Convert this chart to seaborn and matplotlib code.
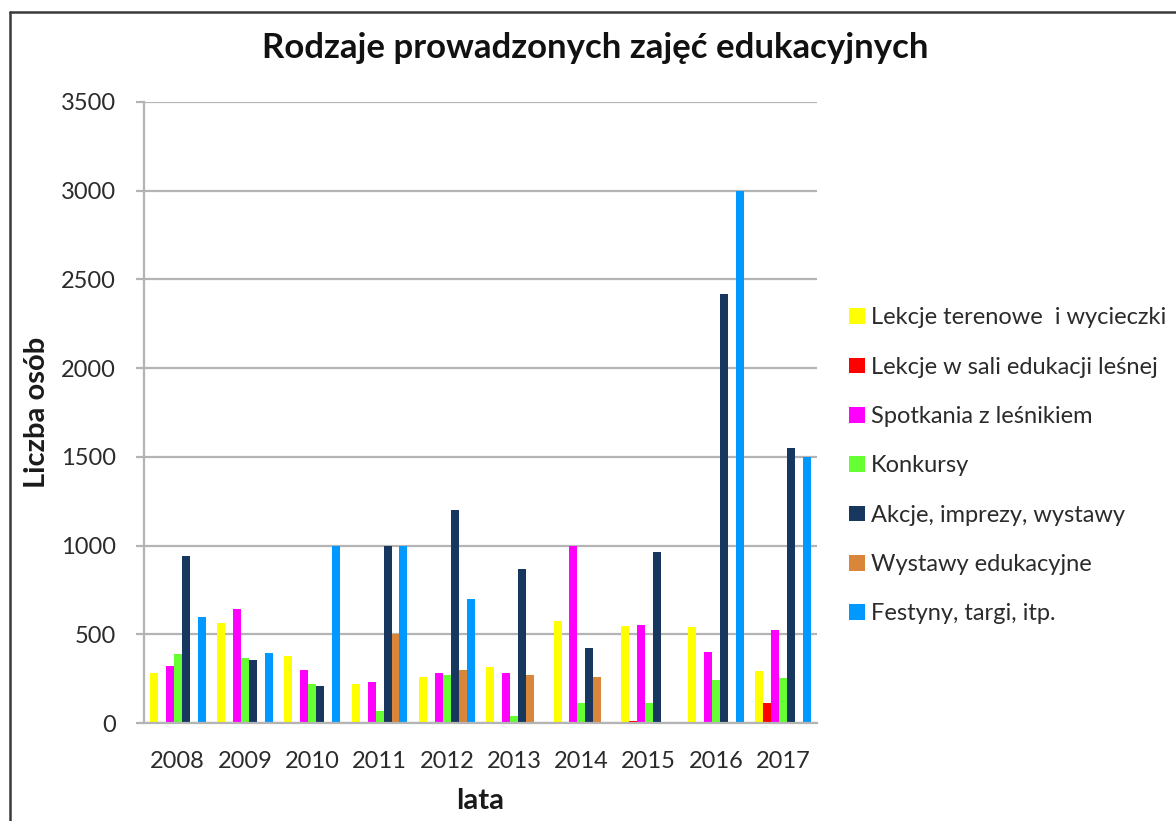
import matplotlib
matplotlib.use("Agg")
import matplotlib.pyplot as plt
import matplotlib.patches as mpatches
from matplotlib.lines import Line2D
import numpy as np
import pandas as pd
import seaborn as sns

years = ["2008", "2009", "2010", "2011", "2012", "2013", "2014", "2015", "2016", "2017"]
series = [
    "Lekcje terenowe  i wycieczki",
    "Lekcje w sali edukacji leśnej",
    "Spotkania z leśnikiem",
    "Konkursy",
    "Akcje, imprezy, wystawy",
    "Wystawy edukacyjne",
    "Festyny, targi, itp.",
]
lekcje_terenowe = [280, 565, 375, 220, 260, 315, 575, 545, 540, 295]
lekcje_sala = [0, 0, 0, 0, 0, 0, 0, 10, 0, 115]
spotkania = [320, 645, 300, 230, 280, 280, 1000, 550, 400, 525]
konkursy = [390, 365, 220, 70, 270, 40, 115, 115, 240, 255]
akcje = [940, 355, 210, 1000, 1200, 870, 420, 965, 2420, 1550]
wystawy = [0, 0, 0, 500, 300, 270, 260, 0, 0, 0]
festyny = [600, 395, 1000, 1000, 700, 0, 0, 0, 3000, 1500]
colors = ["#FFFF00", "#FF0000", "#FF00FF", "#66FF33", "#17375E", "#D9863A", "#0099FF"]

values = [lekcje_terenowe, lekcje_sala, spotkania, konkursy, akcje, wystawy, festyny]
df = pd.DataFrame(
    [(y, s, v[i]) for s, v in zip(series, values) for i, y in enumerate(years)],
    columns=["rok", "rodzaj", "liczba"],
)

sns.set_theme(style="white")
plt.rcParams["font.family"] = ["Lato", "DejaVu Sans"]

fig = plt.figure(figsize=(11.76, 8.21), dpi=100)
ax = fig.add_axes([144 / 1176, 1 - 723 / 821, (817 - 144) / 1176, (723 - 102) / 821])

sns.barplot(
    data=df, x="rok", y="liczba", hue="rodzaj", hue_order=series, order=years,
    palette=colors, width=0.83, saturation=1, linewidth=0, ax=ax, legend=False,
)

ax.set_xlim(-0.5, len(years) - 0.5)
ax.set_ylim(0, 3500)
ax.set_yticks(np.arange(0, 3501, 500))
ax.yaxis.grid(True, color="#B4B4B4", linewidth=1.6)
ax.set_axisbelow(True)

for side in ["top", "right"]:
    ax.spines[side].set_visible(False)
for side in ["left", "bottom"]:
    ax.spines[side].set_color("#B4B4B4")
    ax.spines[side].set_linewidth(1.6)

ax.set_xticks(np.arange(len(years)))
ax.set_xticklabels(years)
ax.set_xticks(np.arange(-0.5, len(years)), minor=True)
ax.tick_params(axis="x", which="major", length=0, pad=20, labelsize=17, labelcolor="#2b2b2b")
ax.tick_params(axis="x", which="minor", length=7, width=1.6, color="#B4B4B4", direction="out")
ax.tick_params(axis="y", length=6, width=1.6, color="#B4B4B4", pad=14, labelsize=17,
               labelcolor="#2b2b2b", left=True)

ax.set_xlabel("lata", fontsize=21, fontweight="bold", color="#1a1a1a", labelpad=12)
ax.set_ylabel("Liczba osób", fontsize=21, fontweight="bold", color="#1a1a1a", labelpad=8)

fig.text(595 / 1176, 1 - 48 / 821, "Rodzaje prowadzonych zajęć edukacyjnych",
         ha="center", va="center", fontsize=25, fontweight="bold", color="#111111")

handles = [mpatches.Patch(facecolor=c, edgecolor="none", label=s) for s, c in zip(series, colors)]
fig.legend(
    handles=handles, loc="upper left", bbox_to_anchor=(840 / 1176, 1 - 298 / 821),
    frameon=False, fontsize=17, handlelength=0.65, handleheight=0.65,
    handletextpad=0.25, labelspacing=1.2, borderaxespad=0, labelcolor="#2b2b2b",
)

# outer frame of the chart area
fig.add_artist(Line2D([10 / 1176, 10 / 1176], [0, 1 - 12 / 821], transform=fig.transFigure,
                      color="#3a3a3a", linewidth=1.8))
fig.add_artist(Line2D([10 / 1176, 1], [1 - 12 / 821, 1 - 12 / 821], transform=fig.transFigure,
                      color="#3a3a3a", linewidth=1.8))

fig.savefig("out.png", dpi=100, facecolor="white")
